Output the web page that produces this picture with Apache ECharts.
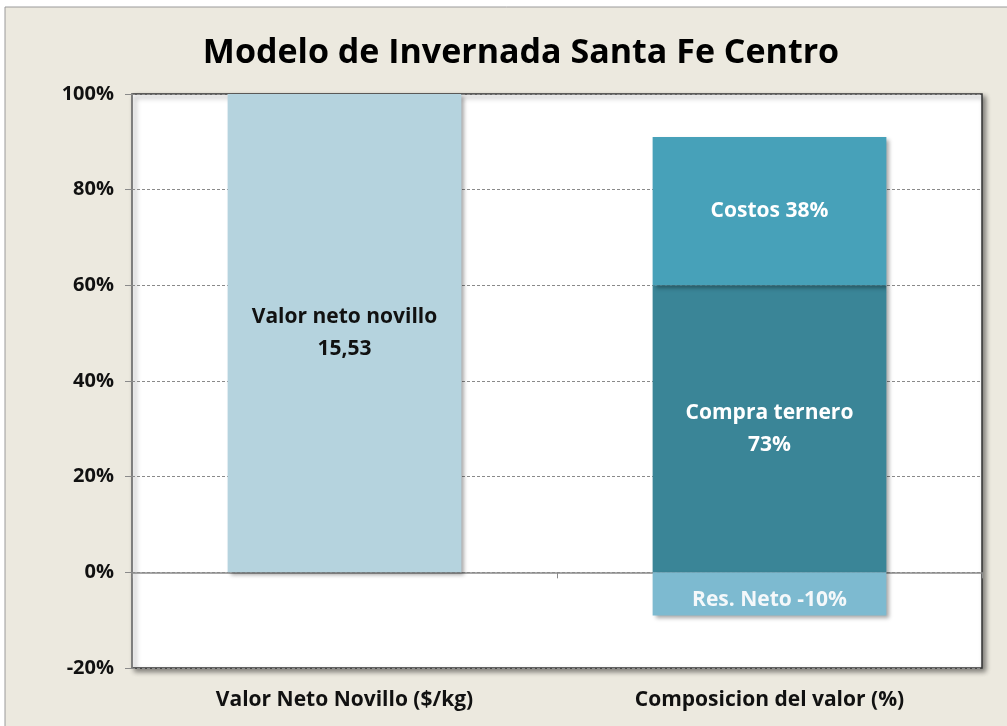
<!DOCTYPE html>
<html>
<head>
<meta charset="utf-8">
<script src="https://cdn.jsdelivr.net/npm/echarts@6/dist/echarts.min.js"></script>
<style>
  html, body { margin: 0; padding: 0; background: #ffffff; }
  #chart { width: 1007px; height: 726px; }
</style>
</head>
<body>
<div id="chart"></div>
<script>
const categories = ['Valor Neto Novillo ($/kg)', 'Composicion del valor (%)']
const valorNeto = [100, '-']
const compraTernero = ['-', 60]
const costos = ['-', 31]
const resNeto = ['-', -9]
const labelTexts = {
  valorNeto: 'Valor neto novillo\n15,53',
  compraTernero: 'Compra ternero\n73%',
  costos: 'Costos 38%',
  resNeto: 'Res. Neto -10%'
}

const font = '"Open Sans", "Noto Sans", sans-serif'
const shadow = { shadowBlur: 4, shadowColor: 'rgba(0,0,0,0.35)', shadowOffsetX: 3, shadowOffsetY: 3 }

function barSeries(name, data, color, text, textColor, offset) {
  return {
    name, type: 'bar', stack: 'total', data,
    barWidth: '55%',
    itemStyle: Object.assign({ color }, shadow),
    label: {
      show: true, position: 'inside', offset: offset || [0, 0],
      formatter: text,
      color: textColor, fontSize: 21, fontWeight: 'bold', fontFamily: font, lineHeight: 32
    }
  }
}

const chart = echarts.init(document.getElementById('chart'))
chart.setOption({
  animation: false,
  backgroundColor: '#ffffff',
  graphic: [{
    type: 'rect', z: -10,
    shape: { x: 5, y: 7, width: 1010, height: 730 },
    style: { fill: '#ece9df', stroke: '#9a9a9a', lineWidth: 1 }
  }],
  title: {
    text: 'Modelo de Invernada Santa Fe Centro',
    left: 516, textAlign: 'center', top: 31,
    textStyle: { fontSize: 34, fontWeight: 'bold', color: '#000', fontFamily: font }
  },
  grid: {
    left: 132, top: 94, right: 25, bottom: 58,
    show: true, backgroundColor: '#ffffff',
    borderColor: '#333333', borderWidth: 1.5,
    shadowBlur: 5, shadowColor: 'rgba(0,0,0,0.45)', shadowOffsetX: 3, shadowOffsetY: 3
  },
  xAxis: [{
    type: 'category', data: categories,
    axisLine: { onZero: true, lineStyle: { color: '#8a8a8a', width: 1.5 } },
    axisTick: { show: true, length: 6, lineStyle: { color: '#8a8a8a' } },
    axisLabel: { show: false }
  }, {
    type: 'category', data: categories, position: 'bottom',
    axisLine: { show: false, onZero: false }, axisTick: { show: false },
    axisLabel: { margin: 22, fontSize: 21, fontWeight: 'bold', color: '#111', fontFamily: font }
  }],
  yAxis: {
    type: 'value', min: -20, max: 100, interval: 20,
    axisLine: { show: true, lineStyle: { color: '#8a8a8a', width: 1.5 } },
    axisTick: { show: true, length: 7, lineStyle: { color: '#8a8a8a' } },
    axisLabel: { formatter: '{value}%', margin: 18, fontSize: 20, fontWeight: 'bold', color: '#111', fontFamily: font },
    splitLine: { lineStyle: { color: '#8a8a8a', type: [3, 2] } }
  },
  series: [
    barSeries('Valor neto', valorNeto, '#b5d3de', labelTexts.valorNeto, '#111'),
    barSeries('Compra ternero', compraTernero, '#3a8597', labelTexts.compraTernero, '#ffffff'),
    barSeries('Costos', costos, '#47a1b9', labelTexts.costos, '#ffffff'),
    barSeries('Res. Neto', resNeto, '#7dbad0', labelTexts.resNeto, '#f4f8fa', [0, 6])
  ]
})
</script>
</body>
</html>
